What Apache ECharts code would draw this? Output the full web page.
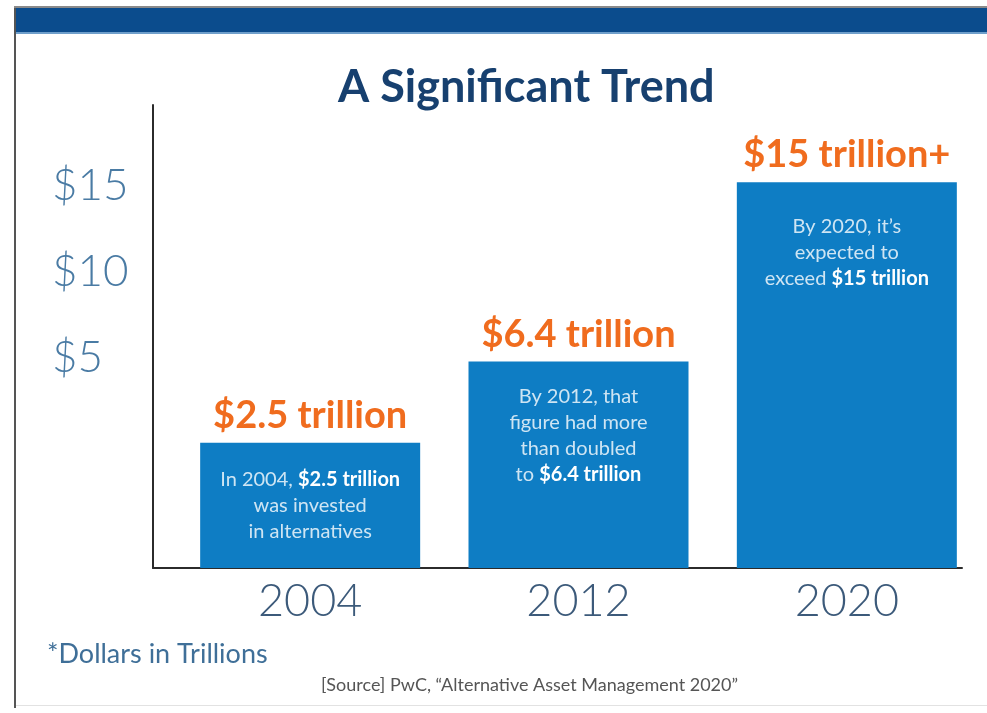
<!DOCTYPE html>
<html>
<head>
<meta charset="utf-8">
<title>A Significant Trend</title>
<script src="https://cdn.jsdelivr.net/npm/echarts@6/dist/echarts.min.js"></script>
<style>
  html, body { margin: 0; padding: 0; background: #ffffff; }
  #chart { width: 987px; height: 713px; }
</style>
</head>
<body>
<div id="chart"></div>
<script>
// Alternative assets invested, trillions of US dollars
const years = ['2004', '2012', '2020'];
const assets = [2.5, 6.4, 15];
const valueLabels = ['$2.5 trillion', '$6.4 trillion', '$15 trillion+'];
const notes = [
  ['In 2004, {b|$2.5 trillion}', 'was invested', 'in alternatives'],
  ['By 2012, that', 'figure had more', 'than doubled', 'to {b|$6.4 trillion}'],
  ['By 2020, it\u2019s', 'expected to', 'exceed {b|$15 trillion}']
];
const dollarTicks = [5, 10, 15];

const FONT = 'Lato, "Noto Sans", sans-serif';
const BAR_BLUE = '#0e7dc4';
const ORANGE = '#f06c1e';
const NAVY = '#17406f';

const chart = echarts.init(document.getElementById('chart'), null, { renderer: 'canvas' });

const option = {
  backgroundColor: '#ffffff',
  animation: false,
  textStyle: { fontFamily: FONT },
  title: [
    {
      text: 'A Significant Trend',
      left: 333, top: 60,
      textStyle: { fontFamily: FONT, fontSize: 45, fontWeight: 'bold', color: NAVY }
    },
    {
      text: '*Dollars in Trillions',
      left: 42, top: 636,
      textStyle: { fontFamily: FONT, fontSize: 27, fontWeight: 'normal', color: '#3f6f98' }
    },
    {
      text: '[Source] PwC, \u201cAlternative Asset Management 2020\u201d',
      left: 316, top: 671,
      textStyle: { fontFamily: FONT, fontSize: 18, fontWeight: 'normal', color: '#555555' }
    }
  ],
  grid: [
    // bars
    { left: 176, right: 6, top: 105, bottom: 145 },
    // axis frame with the dollar scale
    { left: 153, right: 25, top: 105, bottom: 145 }
  ],
  xAxis: [
    {
      type: 'category', gridIndex: 0, data: years,
      axisLine: { show: false }, axisTick: { show: false },
      axisLabel: { margin: 11, fontFamily: FONT, fontSize: 45, fontWeight: 300, color: '#3c5a7a' }
    },
    {
      type: 'value', gridIndex: 1, min: 0, max: 1,
      axisLine: { show: true, onZero: false, lineStyle: { color: '#2b2b2b', width: 2 } },
      axisTick: { show: false }, axisLabel: { show: false }, splitLine: { show: false }
    }
  ],
  yAxis: [
    {
      type: 'value', gridIndex: 0, min: -3.5, max: 18.7, startValue: -3.5,
      show: false, splitLine: { show: false }
    },
    {
      type: 'value', gridIndex: 1, min: -7.2, max: 19.7,
      axisLine: { show: true, onZero: false, lineStyle: { color: '#2b2b2b', width: 2 } },
      axisTick: { show: false },
      splitLine: { show: false },
      axisLabel: {
        customValues: dollarTicks,
        formatter: v => '$' + v,
        align: 'left', margin: 101,
        fontFamily: FONT, fontSize: 44, fontWeight: 300, color: '#4a7ba4'
      }
    }
  ],
  series: [
    {
      type: 'bar', xAxisIndex: 0, yAxisIndex: 0,
      data: assets, barWidth: 220,
      itemStyle: { color: BAR_BLUE },
      label: {
        show: true, position: 'top', distance: 8,
        formatter: p => valueLabels[p.dataIndex],
        fontFamily: FONT, fontSize: 38, fontWeight: 'bold', color: ORANGE
      },
      z: 2
    },
    {
      type: 'bar', xAxisIndex: 0, yAxisIndex: 0,
      data: assets.map((v, i) => ({
        value: v,
        label: { distance: [24, 22, 31][i] }
      })),
      barWidth: 220, barGap: '-100%',
      itemStyle: { color: 'rgba(0,0,0,0)' },
      label: {
        show: true, position: 'insideTop',
        formatter: p => notes[p.dataIndex].join('\n'),
        fontFamily: FONT, fontSize: 20, lineHeight: 26,
        color: 'rgba(255,255,255,0.8)', align: 'center',
        rich: {
          b: { fontFamily: FONT, fontSize: 20, fontWeight: 'bold', color: '#ffffff', lineHeight: 26 }
        }
      },
      z: 3
    }
  ],
  graphic: [
    // page frame and header band
    { type: 'rect', shape: { x: 14, y: 6, width: 973, height: 2 }, style: { fill: '#8a8a8a' }, silent: true },
    { type: 'rect', shape: { x: 14, y: 8, width: 973, height: 25 }, style: { fill: '#0b4c8d' }, silent: true },
    { type: 'rect', shape: { x: 14, y: 32, width: 973, height: 2 }, style: { fill: '#6f9fcb' }, silent: true },
    { type: 'rect', shape: { x: 14, y: 8, width: 2, height: 700 }, style: { fill: '#555555' }, silent: true },
    { type: 'rect', shape: { x: 16, y: 705, width: 971, height: 1 }, style: { fill: '#e2e2e2' }, silent: true }
  ]
};

chart.setOption(option);
</script>
</body>
</html>
